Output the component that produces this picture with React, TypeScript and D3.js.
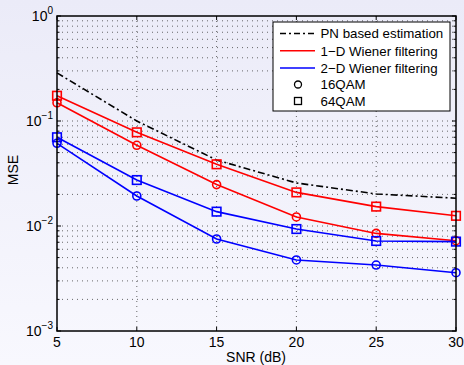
import React from "react";
import * as d3 from "d3";

const snr = [5, 10, 15, 20, 25, 30];
const pnBased = [0.287, 0.1, 0.0425, 0.0257, 0.0202, 0.0184];
const wiener1D_64 = [0.174, 0.078, 0.0387, 0.0209, 0.0153, 0.0125];
const wiener1D_16 = [0.149, 0.0587, 0.0248, 0.0122, 0.0085, 0.00724];
const wiener2D_64 = [0.07, 0.0274, 0.0137, 0.00936, 0.0072, 0.0071];
const wiener2D_16 = [0.0613, 0.0193, 0.00752, 0.00475, 0.00425, 0.00359];
const xTicks = [5, 10, 15, 20, 25, 30];
const yExponents = [0, -1, -2, -3];
const legendLabels = ["PN based estimation", "1\u2212D Wiener filtering", "2\u2212D Wiener filtering", "16QAM", "64QAM"];

const W = 464, H = 365;
const L = 57, R = 456, T = 16, B = 331;

export default function App() {
  const x = d3.scaleLinear().domain([5, 30]).range([L, R]);
  const y = d3.scaleLog().domain([1e-3, 1]).range([B, T]);
  const line = d3.line<number>().x((_, i) => x(snr[i])).y((d) => y(d));

  const minor: number[] = [];
  for (let e = -3; e < 0; e++) for (let k = 2; k <= 9; k++) minor.push(k * Math.pow(10, e));
  const major = yExponents.map((e) => Math.pow(10, e));

  const series = [
    { data: wiener1D_64, color: "#ff0000", marker: "square" },
    { data: wiener1D_16, color: "#ff0000", marker: "circle" },
    { data: wiener2D_64, color: "#0000ff", marker: "square" },
    { data: wiener2D_16, color: "#0000ff", marker: "circle" },
  ];

  const font = "'Liberation Sans', Arial, Helvetica, sans-serif";
  const grid = { stroke: "#444", strokeWidth: 0.8, strokeDasharray: "1,4" };

  const marker = (type: string, cx: number, cy: number, color: string, key: string) =>
    type === "circle" ? (
      <circle key={key} cx={cx} cy={cy} r={4} fill="none" stroke={color} strokeWidth={1.6} />
    ) : (
      <rect key={key} x={cx - 4.3} y={cy - 4.3} width={8.6} height={8.6} fill="none" stroke={color} strokeWidth={1.6} />
    );

  const lx0 = 273, ly0 = 22, lw = 177, lh = 89;
  const rows = [33.5, 50.8, 68, 84.5, 101];

  return (
    <svg width={W} height={H} style={{ display: "block", position: "absolute", left: 0, top: 0 }} fontFamily={font}>
      <defs>
        <linearGradient id="bg" x1="0" y1="0" x2="0" y2="1">
          <stop offset="0" stopColor="#ebebf8" />
          <stop offset="1" stopColor="#f8f8fe" />
        </linearGradient>
      </defs>
      <rect x={0} y={0} width={W} height={H} fill="url(#bg)" />
      {/* grid */}
      {minor.concat(major).filter((v) => v > 1e-3 && v < 1).map((v, i) => (
        <line key={"gy" + i} x1={L} x2={R} y1={y(v)} y2={y(v)} {...grid} />
      ))}
      {xTicks.slice(1, -1).map((t) => (
        <line key={"gx" + t} x1={x(t)} x2={x(t)} y1={T} y2={B} {...grid} />
      ))}
      {/* ticks */}
      {xTicks.map((t) => (
        <g key={"xt" + t}>
          <line x1={x(t)} x2={x(t)} y1={B} y2={B - 4} stroke="#000" strokeWidth={1} />
          <line x1={x(t)} x2={x(t)} y1={T} y2={T + 4} stroke="#000" strokeWidth={1} />
          <text x={x(t)} y={347} textAnchor="middle" fontSize={14}>{t}</text>
        </g>
      ))}
      {minor.map((v, i) => (
        <g key={"mt" + i}>
          <line x1={L} x2={L + 2.5} y1={y(v)} y2={y(v)} stroke="#000" strokeWidth={1} />
          <line x1={R} x2={R - 2.5} y1={y(v)} y2={y(v)} stroke="#000" strokeWidth={1} />
        </g>
      ))}
      {yExponents.map((e) => (
        <g key={"yt" + e}>
          <line x1={L} x2={L + 4} y1={y(Math.pow(10, e))} y2={y(Math.pow(10, e))} stroke="#000" strokeWidth={1} />
          <line x1={R} x2={R - 4} y1={y(Math.pow(10, e))} y2={y(Math.pow(10, e))} stroke="#000" strokeWidth={1} />
          <text x={53} y={y(Math.pow(10, e)) + 5} textAnchor="end" fontSize={14}>
            10<tspan dy={-7} fontSize={10}>{e === 0 ? "0" : "\u2212" + Math.abs(e)}</tspan>
          </text>
        </g>
      ))}
      {/* series */}
      <path d={line(pnBased) || ""} fill="none" stroke="#000" strokeWidth={1.6} strokeDasharray="7,3,2,3" />
      {series.map((s, si) => (
        <g key={"s" + si}>
          <path d={line(s.data) || ""} fill="none" stroke={s.color} strokeWidth={1.6} />
          {s.data.map((v, i) => marker(s.marker, x(snr[i]), y(v), s.color, "m" + si + "_" + i))}
        </g>
      ))}
      {/* axes box */}
      <rect x={L} y={T} width={R - L} height={B - T} fill="none" stroke="#000" strokeWidth={1.5} />
      {/* labels */}
      <text x={256} y={362} textAnchor="middle" fontSize={14}>SNR (dB)</text>
      <text transform="translate(18,170) rotate(-90)" textAnchor="middle" fontSize={14}>MSE</text>
      {/* legend */}
      <rect x={lx0} y={ly0} width={lw} height={lh} fill="#fff" stroke="#000" strokeWidth={1} />
      <line x1={280} x2={315} y1={rows[0]} y2={rows[0]} stroke="#000" strokeWidth={1.6} strokeDasharray="6,3,2,3" />
      <line x1={280} x2={315} y1={rows[1]} y2={rows[1]} stroke="#ff0000" strokeWidth={1.6} />
      <line x1={280} x2={315} y1={rows[2]} y2={rows[2]} stroke="#0000ff" strokeWidth={1.6} />
      <circle cx={298} cy={rows[3]} r={3.5} fill="none" stroke="#000" strokeWidth={1.3} />
      <rect x={294.5} y={rows[4] - 3.5} width={7} height={7} fill="none" stroke="#000" strokeWidth={1.3} />
      {legendLabels.map((t, i) => (
        <text key={"lg" + i} x={320.5} y={rows[i] + 4.7} fontSize={13.3}>{t}</text>
      ))}
    </svg>
  );
}
